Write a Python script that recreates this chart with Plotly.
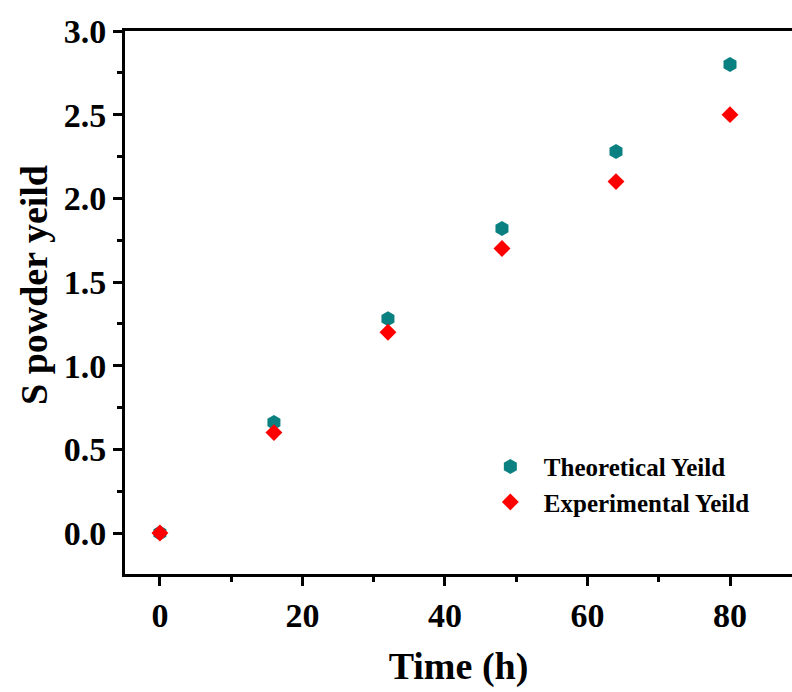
import plotly.graph_objects as go

time_h = [0, 16, 32, 48, 64, 80]
theoretical_yield = [0, 0.66, 1.28, 1.82, 2.28, 2.80]
experimental_yield = [0, 0.60, 1.20, 1.70, 2.10, 2.50]

FONT = "Liberation Serif"

fig = go.Figure()
fig.add_trace(go.Scatter(
    x=time_h, y=theoretical_yield, mode="markers", name="Theoretical Yeild",
    marker=dict(symbol="hexagon", size=15, color="#0a8080", line=dict(width=0)),
))
fig.add_trace(go.Scatter(
    x=time_h, y=experimental_yield, mode="markers", name="Experimental Yeild",
    marker=dict(symbol="diamond", size=13, color="#ff0000", line=dict(width=0)),
))

fig.update_layout(
    width=792, height=692,
    margin=dict(l=125, r=0, t=31, b=118),
    paper_bgcolor="white", plot_bgcolor="white",
    font=dict(family=FONT, color="black", weight="bold"),
    showlegend=True,
    legend=dict(
        x=0.5275, y=0.24, xanchor="left", yanchor="top",
        bgcolor="rgba(0,0,0,0)", borderwidth=0,
        font=dict(family=FONT, size=25, color="black", weight="bold"),
        itemwidth=57, tracegroupgap=0,
    ),
    xaxis=dict(
        range=[-4.9, 88.7], tick0=0, dtick=20,
        showline=True, linecolor="black", linewidth=3, mirror=True,
        ticks="outside", ticklen=9, tickwidth=3, tickcolor="black",
        minor=dict(dtick=10, tick0=0, ticks="outside", ticklen=5, tickwidth=3, tickcolor="black"),
        showgrid=False, zeroline=False,
        tickfont=dict(family=FONT, size=34, weight="bold"),
        title=dict(text="Time (h)", font=dict(family=FONT, size=38, weight="bold"), standoff=20),
    ),
    yaxis=dict(
        range=[-0.245, 3.0], tick0=0, dtick=0.5, tickformat=".1f",
        showline=True, linecolor="black", linewidth=3, mirror=False,
        ticks="outside", ticklen=9, tickwidth=3, tickcolor="black",
        minor=dict(dtick=0.25, tick0=0, ticks="outside", ticklen=5, tickwidth=3, tickcolor="black"),
        showgrid=False, zeroline=False,
        tickfont=dict(family=FONT, size=34, weight="bold"),
    ),
    annotations=[dict(
        text="S powder yeild", textangle=-90, showarrow=False,
        xref="paper", yref="paper", x=(34 - 125) / 667, y=(574 - 285) / 543,
        xanchor="center", yanchor="middle",
        font=dict(family=FONT, size=38, color="black", weight="bold"),
    )],
)

fig.write_html("out.html")
